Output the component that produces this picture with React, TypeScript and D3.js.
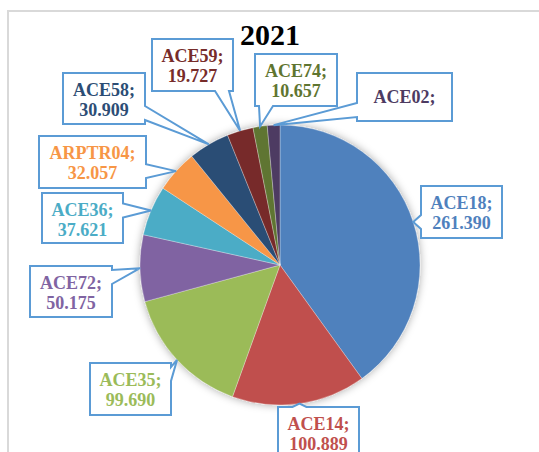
import * as d3 from 'd3';

// data
const names = ['ACE18', 'ACE14', 'ACE35', 'ACE72', 'ACE36', 'ARPTR04', 'ACE58', 'ACE59', 'ACE74', 'ACE02'];
const values = [261.39, 100.889, 99.69, 50.175, 37.621, 32.057, 30.909, 19.727, 10.657, 9.5];
const showValue = [true, true, true, true, true, true, true, true, true, false];
const title = '2021';

// office palette
const COLORS = ['#4f81bd', '#c0504d', '#9bbb59', '#8064a2', '#4bacc6', '#f79646', '#2c4d75', '#772c2a', '#5f7530', '#4d3b62'];

// callout boxes: x, y, w, h
const BOXES = [
  [421, 186, 81, 52], [278, 407, 81, 52], [90, 363, 81, 52], [30, 266, 82, 51], [42, 193, 81, 50],
  [39, 136, 107, 52], [63, 73, 82, 51], [152, 39, 81, 52], [255, 54, 82, 52], [357, 73, 95, 48],
];

const W = 539;
const H = 452;
const CX = 280;
const CY = 265;
const R = 140;
const FONT = '"Liberation Serif", "Times New Roman", serif';

function calloutPath(b: number[], tx: number, ty: number) {
  const [x, y, w, h] = b;
  const cx = x + w / 2, cy = y + h / 2;
  const ww = 14;
  const inside = tx >= x && tx <= x + w && ty >= y && ty <= y + h;
  if (inside) return `M${x},${y}H${x + w}V${y + h}H${x}Z`;
  const horiz = Math.abs(tx - cx) / (w / 2) > Math.abs(ty - cy) / (h / 2);
  const clamp = (v: number, a: number, z: number) => Math.max(a, Math.min(z, v));
  if (!horiz && ty < cy) {
    const bx = clamp(tx, x + ww / 2 + 4, x + w - ww / 2 - 4);
    return `M${x},${y}H${bx - ww / 2}L${tx},${ty}L${bx + ww / 2},${y}H${x + w}V${y + h}H${x}Z`;
  }
  if (horiz && tx > cx) {
    const by = clamp(ty, y + ww / 2 + 4, y + h - ww / 2 - 4);
    return `M${x},${y}H${x + w}V${by - ww / 2}L${tx},${ty}L${x + w},${by + ww / 2}V${y + h}H${x}Z`;
  }
  if (!horiz) {
    const bx = clamp(tx, x + ww / 2 + 4, x + w - ww / 2 - 4);
    return `M${x},${y}H${x + w}V${y + h}H${bx + ww / 2}L${tx},${ty}L${bx - ww / 2},${y + h}H${x}Z`;
  }
  const by = clamp(ty, y + ww / 2 + 4, y + h - ww / 2 - 4);
  return `M${x},${y}H${x + w}V${y + h}H${x}V${by + ww / 2}L${tx},${ty}L${x},${by - ww / 2}Z`;
}

export default function App() {
  const pie = d3.pie<number>().sort(null).value(d => d)(values);
  const arc = d3.arc<d3.PieArcDatum<number>>().innerRadius(0).outerRadius(R);
  const edge = d3.arc<d3.PieArcDatum<number>>().innerRadius(R).outerRadius(R);

  return (
    <svg width={W} height={H} style={{ position: 'absolute', left: 0, top: 0, background: '#fff' }}>
      <defs>
        <filter id="shadow" x="-20%" y="-20%" width="140%" height="140%">
          <feDropShadow dx="0" dy="0" stdDeviation="4" floodColor="#000" floodOpacity="0.35" />
        </filter>
      </defs>
      {/* chart frame */}
      <path d={`M8,${H}V11H${W}`} fill="none" stroke="#d9d9d9" strokeWidth={2} />

      <text x={270} y={45} textAnchor="middle" fontFamily={FONT} fontWeight="bold" fontSize={30} fill="#000">
        {title}
      </text>

      <g transform={`translate(${CX},${CY})`} filter="url(#shadow)">
        {pie.map((d, i) => (
          <path key={names[i]} d={arc(d) ?? ''} fill={COLORS[i]} stroke="#fff" strokeWidth={0.3} />
        ))}
      </g>

      {pie.map((d, i) => {
        const [ex, ey] = edge.centroid(d);
        const b = BOXES[i];
        const [x, y, w] = b;
        const tx = x + w / 2;
        return (
          <g key={`lbl-${names[i]}`}>
            <path d={calloutPath(b, CX + ex, CY + ey)} fill="#fff" stroke="#5b9bd5" strokeWidth={2} />
            <text x={tx} textAnchor="middle" fontFamily={FONT} fontWeight="bold" fontSize={18} fill={COLORS[i]}>
              <tspan x={tx} y={showValue[i] ? y + 23 : y + 30}>{names[i]};</tspan>
              {showValue[i] && (
                <tspan x={tx} y={y + 43}>{d3.format('.3f')(values[i])}</tspan>
              )}
            </text>
          </g>
        );
      })}
    </svg>
  );
}
